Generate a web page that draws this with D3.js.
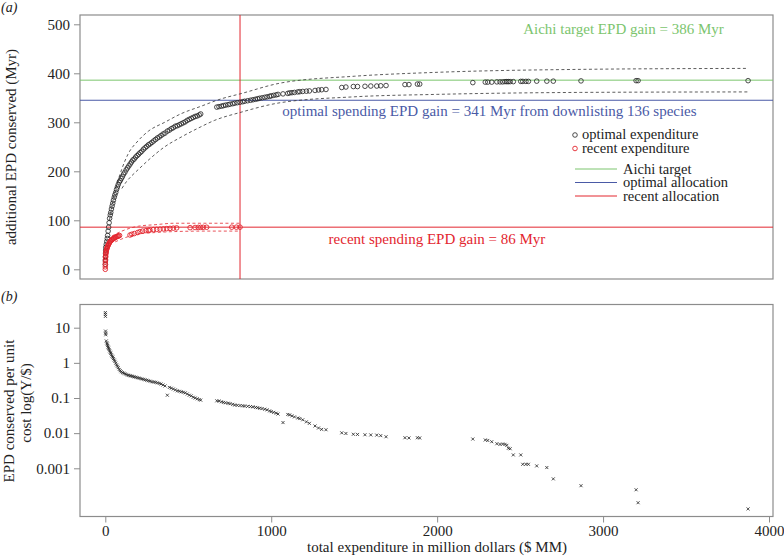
<!DOCTYPE html>
<html><head><meta charset="utf-8">
<script src="https://cdn.jsdelivr.net/npm/d3@7"></script>
<style>
html,body{margin:0;padding:0;background:#fff;}
svg text{font-family:"Liberation Serif","Times New Roman",serif;}
</style></head>
<body><svg id="c" width="784" height="560"></svg>
<script>
// ---- DATA ----
// optimal expenditure: cumulative cost ($MM), cumulative EPD (Myr), EPD per unit cost (Y/$)
const optCost = [0.3,0.6,0.9,1.5,2.2,3.0,6,9,12,14,17,20,23,26,30,33,37,41,45,49,54,58,63,68,73,78,84,90,96,103,110,118,126,134,142,150,158,166,174,183,192,201,210,220,230,240,250,260,270,281,292,303,314,325,336,348,360,374,386,398,410,422,434,446,458,470,482,494,506,518,530,542,554,566,575,
672,685,700,712,725,740,752,768,780,795,812,828,840,858,875,890,905,918,930,945,961,975,990,1000,1015,1030,1041,1071,1100,1111,1125,1140,1160,1172,1190,1212,1230,1264,1285,1304,1330,1425,1450,1495,1520,1565,1600,1636,1660,1692,1806,1830,1881,1895,2215,2290,2305,2329,2360,2379,2395,2409,2420,2429,2440,2459,2504,2516,2535,2550,2600,2661,2700,2867,3199,3211,3874];
const optEPD = [10,18,26,33,39,45,51,57,63,69,78,86,95,104,111,116,123,129,135,141,147,152,157,163,168,173,178,181,185,189,194,198,203,207,211,215,219,223,225,229,232,235,238,241,245,248,251,254,256,259,262,265,268,270,273,276,278,282,284,287,289,292,293,295,297,299,301,304,306,308,310,312,313,315,317,
331,332,333,334,335,336,337,338,339,340,341,342,343,344,345,346,347,348,349,350,351,352,353,354,355,356,357,358,359,360,360.5,361,362,362.5,363,363.5,364,365,366,366.5,367,371,372,373,373,373.5,374,374,374.5,375,377,377,378,378,381,382,382,382,382.5,382.5,382.5,383,383,383,383,383,383.5,383.5,383.5,383.5,384,384,384,384.5,385,385,385];
const optRatio = [27,24,21,8,7,6.3,4.2,3.7,3.4,3.1,2.8,2.6,2.4,2.2,2.0,1.87,1.7,1.55,1.45,1.32,1.2,1.1,0.98,0.88,0.8,0.73,0.65,0.6,0.56,0.53,0.51,0.49,0.47,0.45,0.44,0.43,0.42,0.41,0.40,0.39,0.38,0.37,0.36,0.35,0.34,0.33,0.32,0.31,0.30,0.29,0.285,0.28,0.27,0.26,0.25,0.235,0.22,0.12,0.2,0.19,0.18,0.17,0.16,0.155,0.15,0.145,0.14,0.13,0.12,0.115,0.105,0.1,0.095,0.09,0.087,
0.083,0.082,0.078,0.075,0.073,0.071,0.069,0.066,0.063,0.062,0.061,0.06,0.059,0.058,0.057,0.056,0.054,0.053,0.051,0.05,0.048,0.046,0.043,0.041,0.039,0.037,0.035,0.020,0.034,0.033,0.031,0.029,0.027,0.026,0.024,0.021,0.019,0.016,0.014,0.0128,0.0125,0.0102,0.0098,0.0093,0.0092,0.009,0.0089,0.0088,0.0085,0.0079,0.0074,0.0073,0.0074,0.0073,0.0068,0.0064,0.0062,0.0057,0.005,0.0048,0.0049,0.0048,0.0045,0.0037,0.0036,0.0024,0.0024,0.0013,0.0013,0.0013,0.00117,0.00105,0.0005,0.00032,0.000245,0.000105,0.00007];

// recent expenditure
const recCost = [0,0,0.2,0.5,1,1.5,2,3,4,5,6,8,10,12,14,17,20,23,26,30,34,38,42,46,50,55,60,65,70,75,80,86,
149,160,175,195,209,225,245,260,269,290,310,330,350,370,390,410,430,511,541,560,575,590,611,762,790,812];
const recEPD = [0,5,10,15,20,24,27,31,34,36,38,41,43,45,47,49,51,53,55,57,58.5,60,61,62,63,64,65,66,67,67.5,68,69,
70,71.5,73,75,77,78,79,79.5,80,81,81.5,82,82.5,83,83.5,84,84.5,85,85.3,85.5,85.6,85.7,85.8,86,86,86];

// confidence envelopes (dashed)
const optUpperCost = [25,60,100,137,197,260,358,460,571,700,812,1055,1500,2000,2862,3874];
const optUpperEPD  = [100,160,205,235,262,282,300,318,332,348,358,380,394,402,408,410];
const optLowerCost = [100,130,157,197,257,358,458,571,659,812,1055,1500,2000,2862,3874];
const optLowerEPD  = [165,180,190,203,222,250,270,290,304,320,340,352,357,361,362];
const recUpperCost = [40,100,150,200,300,418,600,812];
const recUpperEPD  = [68,78,84,88,91,94,94,94];
const recLowerCost = [60,100,150,200,300,418,600,812];
const recLowerEPD  = [56,62,68,72,75,77,78,78];

// reference levels
const aichiTarget = 386, optimalLevel = 345, recentLevel = 86, recentSpend = 812;

const yTicksTop = [0,100,200,300,400,500];
const yTicksBottom = [10,1,0.1,0.01,0.001];
const yTickLabelsBottom = ["10","1","0.1","0.01","0.001"];
const xTicks = [0,1000,2000,3000,4000];

// ---- DRAW ----
const svg = d3.select("#c");
const GREEN="#7cc56e", BLUE="#4a5aa6", RED="#e3262f", FRAME="#8c8c8c";
const L=80, R=773, aT=15, aB=279, bT=304.5, bB=516.5;

const x = d3.scaleLinear().domain([0,4000]).range([105.3,769]);
const y = d3.scaleLinear().domain([0,500]).range([269.3,24.3]);
const yl = d3.scaleLog().domain([0.001,10]).range([468.3,327.7]);

svg.append("rect").attr("x",L).attr("y",aT).attr("width",R-L).attr("height",aB-aT)
  .attr("fill","none").attr("stroke",FRAME).attr("stroke-width",1.2);
svg.append("rect").attr("x",L).attr("y",bT).attr("width",R-L).attr("height",bB-bT)
  .attr("fill","none").attr("stroke",FRAME).attr("stroke-width",1.2);

// axes
const ga = svg.append("g").attr("transform",`translate(${L},0)`)
  .call(d3.axisLeft(y).tickValues(yTicksTop).tickSize(6).tickPadding(4).tickFormat(d3.format("d")));
const gb = svg.append("g").attr("transform",`translate(${L},0)`)
  .call(d3.axisLeft(yl).tickValues(yTicksBottom).tickSize(6).tickPadding(4).tickFormat((d,i)=>yTickLabelsBottom[i]));
const gx = svg.append("g").attr("transform",`translate(0,${bB})`)
  .call(d3.axisBottom(x).tickValues(xTicks).tickSize(6).tickPadding(3).tickFormat(d3.format("d")));
[ga,gb,gx].forEach(g=>{
  g.attr("font-family",null);
  g.select(".domain").remove();
  g.selectAll(".tick line").attr("stroke",FRAME);
  g.selectAll(".tick text").attr("fill","#222").style("font-size","15px").style("font-family","'Liberation Serif',serif");
});

// reference lines
svg.append("line").attr("x1",L).attr("x2",R).attr("y1",y(aichiTarget)).attr("y2",y(aichiTarget)).attr("stroke",GREEN).attr("stroke-width",1);
svg.append("line").attr("x1",L).attr("x2",R).attr("y1",y(optimalLevel)).attr("y2",y(optimalLevel)).attr("stroke",BLUE).attr("stroke-width",1);
svg.append("line").attr("x1",L).attr("x2",R).attr("y1",y(recentLevel)).attr("y2",y(recentLevel)).attr("stroke",RED).attr("stroke-width",1);
svg.append("line").attr("x1",x(recentSpend)).attr("x2",x(recentSpend)).attr("y1",aT).attr("y2",aB).attr("stroke",RED).attr("stroke-width",1);

// dashed envelopes
const line = d3.line().curve(d3.curveMonotoneX).x(d=>x(d[0])).y(d=>y(d[1]));
function env(cs,es,col){
  svg.append("path").datum(cs.map((c,i)=>[c,es[i]])).attr("d",line)
    .attr("fill","none").attr("stroke",col).attr("stroke-width",0.8).attr("stroke-dasharray","3,2.5");
}
env(optUpperCost,optUpperEPD,"#333");
env(optLowerCost,optLowerEPD,"#333");
env(recUpperCost,recUpperEPD,RED);
env(recLowerCost,recLowerEPD,RED);

// points
svg.append("g").selectAll("circle").data(optCost.map((c,i)=>[c,optEPD[i]])).join("circle")
  .attr("cx",d=>x(d[0])).attr("cy",d=>y(d[1])).attr("r",2.3)
  .attr("fill","none").attr("stroke","#222").attr("stroke-width",0.8);
svg.append("g").selectAll("circle").data(recCost.map((c,i)=>[c,recEPD[i]])).join("circle")
  .attr("cx",d=>x(d[0])).attr("cy",d=>y(d[1])).attr("r",2.3)
  .attr("fill","none").attr("stroke",RED).attr("stroke-width",0.9);

// crosses (panel b)
const s=1.5;
svg.append("g").selectAll("path").data(optCost.map((c,i)=>[c,optRatio[i]])).join("path")
  .attr("d",d=>{const cx=x(d[0]),cy=yl(d[1]);return `M${cx-s},${cy-s}L${cx+s},${cy+s}M${cx-s},${cy+s}L${cx+s},${cy-s}`;})
  .attr("stroke","#222").attr("stroke-width",0.8).attr("fill","none");

// annotations
function txt(t,xx,yy,col,size,anchor){
  return svg.append("text").attr("x",xx).attr("y",yy).attr("fill",col).style("font-size",size+"px")
    .attr("text-anchor",anchor||"start").text(t);
}
txt("Aichi target EPD gain = 386 Myr",623.5,34,GREEN,15,"middle");
txt("optimal spending EPD gain = 341 Myr from downlisting 136 species",489.5,116,BLUE,15,"middle");
txt("recent spending EPD gain = 86 Myr",437,244,RED,15,"middle");

// legend
svg.append("circle").attr("cx",575).attr("cy",135).attr("r",2.3).attr("fill","none").attr("stroke","#222").attr("stroke-width",0.8);
svg.append("circle").attr("cx",575).attr("cy",148.5).attr("r",2.3).attr("fill","none").attr("stroke",RED).attr("stroke-width",0.9);
txt("optimal expenditure",582,139,"#222",14.5);
txt("recent expenditure",582,152.5,"#222",14.5);
[[GREEN,169,"Aichi target"],[BLUE,182.5,"optimal allocation"],[RED,196,"recent allocation"]].forEach(([c,yy,t])=>{
  svg.append("line").attr("x1",575).attr("x2",617).attr("y1",yy).attr("y2",yy).attr("stroke",c).attr("stroke-width",1);
  txt(t,623,yy+4.5,"#222",14.5);
});

// axis titles
svg.append("text").attr("transform","translate(16,147) rotate(-90)").attr("text-anchor","middle")
  .attr("fill","#222").style("font-size","15px").text("additional EPD conserved (Myr)");
svg.append("text").attr("transform","translate(14,411) rotate(-90)").attr("text-anchor","middle")
  .attr("fill","#222").style("font-size","15px").text("EPD conserved per unit");
svg.append("text").attr("transform","translate(31,403) rotate(-90)").attr("text-anchor","middle")
  .attr("fill","#222").style("font-size","15px").text("cost log(Y/$)");
svg.append("text").attr("x",437).attr("y",552).attr("text-anchor","middle")
  .attr("fill","#222").style("font-size","15px").text("total expenditure in million dollars ($ MM)");

// panel labels
svg.append("text").attr("x",1).attr("y",12).attr("fill","#222").style("font-size","14px").style("font-style","italic").text("(a)");
svg.append("text").attr("x",1).attr("y",301).attr("fill","#222").style("font-size","14px").style("font-style","italic").text("(b)");
</script></body></html>
